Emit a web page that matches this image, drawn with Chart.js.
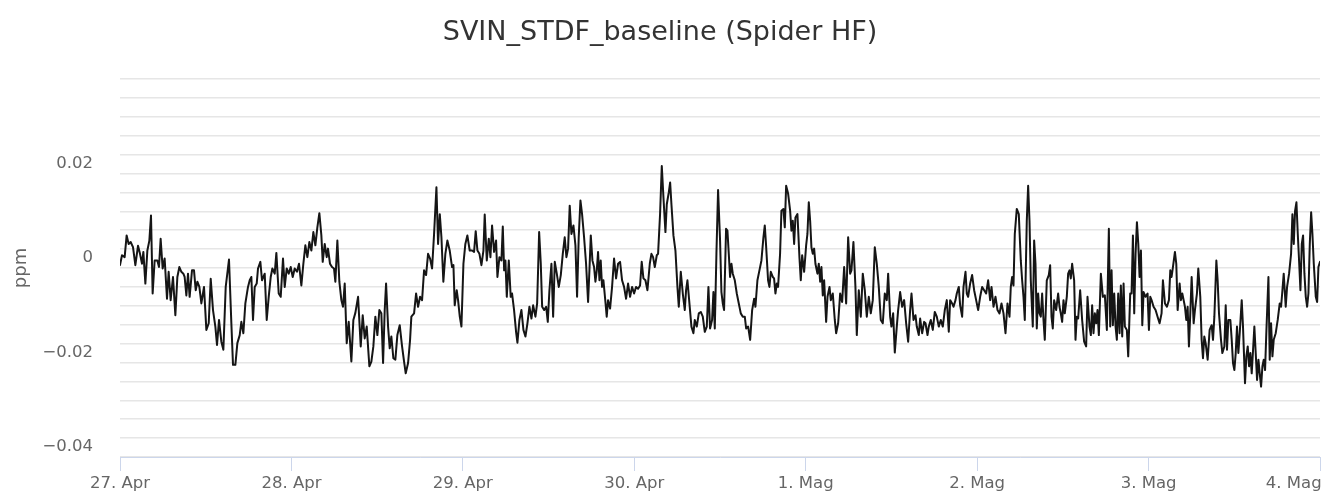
<!DOCTYPE html>
<html>
<head>
<meta charset="utf-8">
<title>SVIN_STDF_baseline (Spider HF)</title>
<script src="https://cdn.jsdelivr.net/npm/chart.js@4.4.1/dist/chart.umd.min.js"></script>
<style>
  html, body { margin: 0; padding: 0; background: #fff; }
  #wrap { width: 1322px; height: 494px; }
</style>
</head>
<body>
<div id="wrap"><canvas id="chart" width="1322" height="494"></canvas></div>
<script>
// ---- data (hours since 27 Apr 00:00, value in ppm) ----
const dayLabels = ['27. Apr', '28. Apr', '29. Apr', '30. Apr', '1. Mag', '2. Mag', '3. Mag', '4. Mag'];
const yLabelValues = [-0.04, -0.02, 0, 0.02];

const hours = [
  // 27 Apr
  0, 0.28, 0.65, 0.93, 1.21, 1.49, 1.82, 2.15, 2.52, 2.80,
  3.08, 3.27, 3.55, 3.83, 4.11, 4.34, 4.57, 4.85, 5.23, 5.46,
  5.69, 5.97, 6.25, 6.58, 6.81, 7.09, 7.42, 7.75, 8.03, 8.31,
  8.59, 8.87, 9.05, 9.29, 9.52, 9.75, 10.08, 10.36, 10.60, 10.83,
  11.11, 11.39, 11.76, 12.09, 12.42, 12.70, 13.02, 13.35, 13.58, 13.86,
  14.19, 14.47, 14.80, 15.26, 15.59, 15.82, 16.15, 16.43, 16.76, 16.99,
  17.27, 17.55, 17.92, 18.16, 18.39, 18.62, 18.86, 19.14, 19.32, 19.65,
  19.88, 20.26, 20.54, 20.82, 21.10, 21.33, 21.66, 21.89, 22.22, 22.50,
  22.82, 23.06, 23.34, 23.62, 23.90, 24.18, 24.46, 24.78, 25.06, 25.39,
  25.67, 25.95, 26.23, 26.51, 26.79, 27.07, 27.35, 27.63, 27.91, 28.19,
  28.38, 28.66, 28.94, 29.12, 29.40, 29.68, 29.96, 30.15, 30.43, 30.71,
  30.99, 31.22, 31.46, 31.74, 32.02, 32.39, 32.67, 32.95,
  // 28 Apr - 29 Apr
  33.33, 33.70, 33.98, 34.26, 34.54, 34.91, 35.19, 35.47, 35.75, 36.03,
  36.31, 36.59, 36.83, 37.06, 37.25, 37.53, 37.76, 37.99, 38.27, 38.55,
  38.83, 39.16, 39.49, 39.77, 40.00, 40.33, 40.61, 40.79, 41.17, 41.45,
  41.73, 42.01, 42.29, 42.57, 42.85, 43.13, 43.41, 43.69, 43.97, 44.30,
  44.53, 44.77, 45.00, 45.27, 45.55, 45.83, 46.16, 46.49, 46.68, 46.86,
  47.14, 47.33, 47.57, 47.80, 48.08, 48.35, 48.63, 48.96, 49.29, 49.57,
  49.80, 50.04, 50.32, 50.60, 50.88, 51.06, 51.35, 51.63, 51.86, 52.09,
  52.37, 52.65, 52.84, 53.12, 53.40, 53.59, 53.78, 53.96, 54.15, 54.43,
  54.70, 54.89, 55.17, 55.45, 55.64, 55.92, 56.20, 56.48, 56.76, 57.04,
  57.32, 57.60, 57.84, 58.16, 58.40, 58.68, 58.91, 59.10, 59.38, 59.66,
  59.89, 60.12, 60.40, 60.64, 60.87, 61.15, 61.43, 61.71, 61.99, 62.26,
  62.50, 62.73, 62.96, 63.20, 63.48, 63.76, 63.99, 64.22, 64.46, 64.69,
  64.97, 65.25, 65.53, 65.72, 65.91, 66.14, 66.37, 66.56, 66.75,
  // 29 Apr - 1 Mag
  66.93, 67.12, 67.30, 67.49, 67.68, 67.96, 68.14, 68.33, 68.61, 68.89,
  69.17, 69.45, 69.73, 70.01, 70.29, 70.57, 70.85, 71.13, 71.41, 71.69,
  71.97, 72.25, 72.53, 72.81, 73.04, 73.28, 73.56, 73.84, 74.17, 74.40,
  74.63, 74.87, 75.15, 75.33, 75.61, 75.85, 76.08, 76.36, 76.55, 76.83,
  77.02, 77.20, 77.48, 77.76, 78.04, 78.23, 78.51, 78.79, 79.07, 79.25,
  79.44, 79.72, 80.00, 80.28, 80.47, 80.75, 81.03, 81.31, 81.59, 81.87,
  82.15, 82.38, 82.61, 82.89, 83.08, 83.27, 83.50, 83.73, 84.01, 84.20,
  84.39, 84.57, 84.85, 85.04, 85.23, 85.41, 85.60, 85.79, 86.07, 86.35,
  86.63, 86.91, 87.19, 87.47, 87.66, 87.94, 88.22, 88.50, 88.78, 88.96,
  89.24, 89.52, 89.80, 90.08, 90.27, 90.45, 90.73, 90.92, 91.11, 91.39,
  91.57, 91.76, 91.95, 92.13, 92.41, 92.60, 92.88, 93.07, 93.26, 93.54,
  93.82, 94.00, 94.19, 94.38, 94.56, 94.84, 95.12, 95.31, 95.50, 95.78,
  96.06, 96.24, 96.43, 96.62, 96.80, 96.99, 97.18, 97.36, 97.64, 97.83,
  98.02, 98.20, 98.39, 98.58, 98.86, 99.05, 99.33, 99.51, 99.79, 100.07, 100.26,
  // 1 Mag - 2 Mag
  100.54, 100.82, 101.10, 101.38, 101.66, 101.94, 102.22, 102.40, 102.68, 102.96,
  103.15, 103.43, 103.71, 103.99, 104.27, 104.55, 104.83, 105.11, 105.39, 105.67,
  105.95, 106.23, 106.51, 106.79, 107.07, 107.35, 107.54, 107.82, 108.00, 108.24,
  108.47, 108.75, 108.94, 109.22, 109.50, 109.78, 110.06, 110.34, 110.62, 110.81,
  111.09, 111.37, 111.55, 111.83, 112.02, 112.30, 112.58, 112.77, 113.05, 113.23,
  113.51, 113.79, 114.07, 114.35, 114.63, 114.91, 115.19, 115.47, 115.75, 116.03,
  116.22, 116.50, 116.69, 116.97, 117.15, 117.43, 117.62, 117.90, 118.09, 118.37,
  118.55, 118.74, 119.02, 119.30, 119.58, 119.86, 120.14, 120.42, 120.70, 120.98,
  121.26, 121.54, 121.82, 122.01, 122.29, 122.57, 122.85, 123.13, 123.41, 123.69,
  123.97, 124.25, 124.53, 124.71, 124.90, 125.09, 125.27, 125.55, 125.83, 126.11,
  126.30, 126.49, 126.67, 126.95, 127.14, 127.33, 127.51, 127.79, 127.98, 128.17,
  128.35, 128.54, 128.73, 128.91, 129.10, 129.29, 129.47, 129.75, 130.03, 130.22,
  130.41, 130.59, 130.78, 131.06, 131.34, 131.53, 131.71, 131.90, 132.09, 132.27,
  132.55, 132.74, 132.93, 133.11, 133.30, 133.58, 133.77, 133.95,
  // 2 Mag - 4 Mag
  134.14, 134.42, 134.70, 134.98, 135.26, 135.45, 135.73, 135.92, 136.10, 136.29,
  136.48, 136.67, 136.85, 137.04, 137.32, 137.60, 137.88, 138.16, 138.44, 138.63,
  138.82, 139.00, 139.19, 139.38, 139.56, 139.75, 139.94, 140.12, 140.31, 140.50,
  140.68, 140.96, 141.15, 141.43, 141.62, 141.81, 141.99, 142.18, 142.37, 142.56,
  142.74, 142.93, 143.12, 143.30, 143.58, 143.86, 144.05, 144.24, 144.42, 144.70,
  144.98, 145.26, 145.54, 145.82, 146.01, 146.29, 146.57, 146.85, 147.04, 147.22,
  147.41, 147.69, 147.88, 148.07, 148.35, 148.53, 148.72, 148.91, 149.09, 149.28,
  149.47, 149.65, 149.84, 150.03, 150.31, 150.49, 150.77, 150.96, 151.24, 151.43,
  151.62, 151.80, 151.99, 152.27, 152.55, 152.83, 153.02, 153.21, 153.49, 153.67,
  153.86, 154.14, 154.33, 154.61, 154.80, 154.98, 155.17, 155.45, 155.64, 155.82,
  156.01, 156.20, 156.38, 156.57, 156.76, 157.04, 157.22, 157.50, 157.69, 157.88,
  158.07, 158.25, 158.44, 158.63, 158.81, 159.00, 159.19, 159.38, 159.56, 159.75,
  159.94, 160.12, 160.31, 160.50, 160.78, 160.96, 161.15, 161.34, 161.52, 161.80,
  162.08, 162.36, 162.55, 162.74, 162.92, 163.20, 163.39, 163.67, 163.95, 164.14,
  164.33, 164.51, 164.70, 164.89, 165.07, 165.26, 165.45, 165.63, 165.82, 166.01,
  166.20, 166.38, 166.57, 166.76, 166.94, 167.13, 167.41, 167.60, 167.78, 168.00
];

const ppm = [
  // 27 Apr
  0.0006, 0.0027, 0.0023, 0.0069, 0.0051, 0.0055, 0.0044, 0.0006, 0.0047, 0.0030,
  0.0009, 0.0034, -0.0033, 0.0037, 0.0058, 0.0111, -0.0054, 0.0016, 0.0016, 0.0002,
  0.0062, -0.0001, 0.0020, -0.0065, -0.0008, -0.0068, -0.0019, -0.0100, -0.0019, 0.0002,
  -0.0008, -0.0012, -0.0019, -0.0058, -0.0012, -0.0061, -0.0005, -0.0005, -0.0047, -0.0029,
  -0.0040, -0.0075, -0.0040, -0.0131, -0.0117, -0.0023, -0.0089, -0.0124, -0.0163, -0.0110,
  -0.0156, -0.0173, -0.0040, 0.0018, -0.0117, -0.0205, -0.0205, -0.0159, -0.0142, -0.0114,
  -0.0138, -0.0075, -0.0040, -0.0026, -0.0019, -0.0110, -0.0040, -0.0033, -0.0001, 0.0013,
  -0.0026, -0.0012, -0.0110, -0.0061, -0.0019, -0.0001, -0.0012, 0.0032, -0.0054, -0.0061,
  0.0020, -0.0040, -0.0001, -0.0012, 0.0002, -0.0019, -0.0001, -0.0008, 0.0009, -0.0037,
  0.0009, 0.0048, 0.0023, 0.0055, 0.0037, 0.0076, 0.0048, 0.0086, 0.0116, 0.0069,
  0.0013, 0.0051, 0.0023, 0.0041, 0.0009, 0.0002, -0.0001, -0.0029, 0.0058, -0.0029,
  -0.0068, -0.0082, -0.0033, -0.0159, -0.0114, -0.0198, -0.0110, -0.0095,
  // 28 Apr - 29 Apr
  -0.0061, -0.0166, -0.0100, -0.0149, -0.0124, -0.0208, -0.0198, -0.0166, -0.0103, -0.0142,
  -0.0089, -0.0096, -0.0201, -0.0089, -0.0033, -0.0124, -0.0170, -0.0145, -0.0191, -0.0194,
  -0.0142, -0.0121, -0.0166, -0.0198, -0.0223, -0.0201, -0.0152, -0.0103, -0.0096, -0.0054,
  -0.0082, -0.0061, -0.0068, -0.0005, -0.0015, 0.0030, 0.0020, -0.0001, 0.0072, 0.0171,
  0.0051, 0.0114, 0.0065, -0.0029, 0.0030, 0.0058, 0.0037, 0.0002, 0.0006, -0.0079,
  -0.0047, -0.0068, -0.0103, -0.0124, 0.0009, 0.0051, 0.0069, 0.0037, 0.0037, 0.0034,
  0.0078, 0.0037, 0.0030, 0.0006, 0.0037, 0.0113, 0.0016, 0.0062, 0.0023, 0.0090,
  0.0034, 0.0058, -0.0019, 0.0023, 0.0016, 0.0088, -0.0005, 0.0016, -0.0061, 0.0016,
  -0.0061, -0.0054, -0.0089, -0.0135, -0.0158, -0.0110, -0.0089, -0.0131, -0.0145, -0.0117,
  -0.0082, -0.0107, -0.0079, -0.0103, -0.0075, 0.0076, 0.0009, -0.0082, -0.0089, -0.0082,
  -0.0114, -0.0047, 0.0009, -0.0103, 0.0013, -0.0012, -0.0040, -0.0015, 0.0030, 0.0065,
  0.0023, 0.0041, 0.0132, 0.0072, 0.0090, 0.0048, -0.0061, 0.0065, 0.0143, 0.0114,
  0.0065, 0.0009, -0.0072, -0.0005, 0.0069, 0.0016, 0.0002, -0.0029, -0.0005,
  // 29 Apr - 1 Mag
  0.0034, -0.0026, 0.0016, -0.0040, -0.0026, -0.0072, -0.0103, -0.0068, -0.0086, -0.0040,
  0.0020, -0.0022, 0.0009, 0.0013, -0.0026, -0.0040, -0.0065, -0.0033, -0.0061, -0.0040,
  -0.0054, -0.0040, -0.0044, -0.0037, 0.0013, -0.0022, -0.0026, -0.0047, 0.0009, 0.0030,
  0.0023, 0.0002, 0.0027, 0.0030, 0.0114, 0.0216, 0.0150, 0.0076, 0.0135, 0.0160,
  0.0181, 0.0135, 0.0069, 0.0037, -0.0040, -0.0082, -0.0008, -0.0054, -0.0089, -0.0047,
  -0.0026, -0.0075, -0.0124, -0.0138, -0.0110, -0.0124, -0.0096, -0.0093, -0.0103, -0.0135,
  -0.0124, -0.0040, -0.0128, -0.0110, -0.0051, -0.0128, 0.0030, 0.0165, 0.0058, -0.0051,
  -0.0075, -0.0089, 0.0083, 0.0079, 0.0030, -0.0019, 0.0009, -0.0012, -0.0026, -0.0054,
  -0.0075, -0.0096, -0.0103, -0.0103, -0.0128, -0.0124, -0.0152, -0.0089, -0.0065, -0.0082,
  -0.0026, -0.0005, 0.0016, 0.0065, 0.0090, 0.0048, -0.0026, -0.0040, -0.0008, -0.0019,
  -0.0022, -0.0054, -0.0033, -0.0040, 0.0030, 0.0121, 0.0125, 0.0086, 0.0174, 0.0157,
  0.0121, 0.0079, 0.0100, 0.0051, 0.0107, 0.0114, 0.0023, -0.0026, 0.0027, -0.0008,
  0.0048, 0.0072, 0.0139, 0.0100, 0.0044, 0.0030, 0.0041, 0.0009, -0.0012, 0.0009,
  -0.0029, 0.0002, -0.0058, -0.0026, -0.0114, -0.0061, -0.0040, -0.0068, -0.0054, -0.0110, -0.0138,
  // 1 Mag - 2 Mag
  -0.0117, -0.0054, -0.0072, 0.0002, -0.0075, 0.0065, -0.0012, -0.0005, 0.0055, -0.0040,
  -0.0142, -0.0047, -0.0103, -0.0012, -0.0047, -0.0103, -0.0061, -0.0096, -0.0068, 0.0044,
  0.0009, -0.0040, -0.0110, -0.0117, -0.0054, -0.0068, -0.0012, -0.0103, -0.0124, -0.0096,
  -0.0179, -0.0124, -0.0089, -0.0051, -0.0082, -0.0068, -0.0117, -0.0156, -0.0089, -0.0054,
  -0.0110, -0.0100, -0.0124, -0.0142, -0.0107, -0.0138, -0.0114, -0.0117, -0.0142, -0.0124,
  -0.0110, -0.0131, -0.0093, -0.0103, -0.0124, -0.0110, -0.0124, -0.0089, -0.0068, -0.0135,
  -0.0068, -0.0075, -0.0082, -0.0068, -0.0054, -0.0040, -0.0079, -0.0103, -0.0040, -0.0008,
  -0.0054, -0.0061, -0.0033, -0.0015, -0.0047, -0.0068, -0.0089, -0.0061, -0.0040, -0.0047,
  -0.0054, -0.0026, -0.0068, -0.0040, -0.0082, -0.0061, -0.0089, -0.0096, -0.0075, -0.0096,
  -0.0138, -0.0075, -0.0103, -0.0040, -0.0019, -0.0037, 0.0072, 0.0125, 0.0114, 0.0016,
  -0.0026, -0.0061, -0.0110, 0.0100, 0.0174, 0.0100, -0.0026, -0.0124, 0.0058, 0.0009,
  -0.0128, -0.0054, -0.0096, -0.0103, -0.0054, -0.0110, -0.0152, -0.0026, -0.0015, 0.0006,
  -0.0103, -0.0128, -0.0068, -0.0089, -0.0054, -0.0082, -0.0096, -0.0114, -0.0068, -0.0096,
  -0.0061, -0.0012, -0.0005, -0.0022, 0.0009, -0.0026, -0.0152, -0.0103,
  // 2 Mag - 4 Mag
  -0.0107, -0.0047, -0.0110, -0.0156, -0.0166, -0.0061, -0.0124, -0.0142, -0.0079, -0.0138,
  -0.0096, -0.0117, -0.0089, -0.0142, -0.0012, -0.0061, -0.0058, -0.0131, 0.0083, -0.0124,
  -0.0005, -0.0121, -0.0054, -0.0124, -0.0152, -0.0054, -0.0138, -0.0037, -0.0145, -0.0033,
  -0.0124, -0.0131, -0.0187, -0.0054, -0.0054, 0.0069, -0.0096, 0.0030, 0.0097, 0.0051,
  -0.0019, 0.0037, -0.0121, -0.0051, -0.0061, -0.0054, -0.0131, -0.0061, -0.0068, -0.0082,
  -0.0089, -0.0103, -0.0117, -0.0096, -0.0026, -0.0075, -0.0082, -0.0068, -0.0005, -0.0019,
  0.0002, 0.0034, 0.0009, -0.0089, -0.0033, -0.0068, -0.0054, -0.0068, -0.0082, -0.0110,
  -0.0082, -0.0166, -0.0096, -0.0019, -0.0117, -0.0089, -0.0054, -0.0001, -0.0061, -0.0152,
  -0.0191, -0.0145, -0.0159, -0.0194, -0.0131, -0.0121, -0.0152, -0.0103, 0.0016, -0.0026,
  -0.0096, -0.0152, -0.0180, -0.0166, -0.0079, -0.0173, -0.0110, -0.0110, -0.0152, -0.0201,
  -0.0216, -0.0180, -0.0124, -0.0180, -0.0138, -0.0068, -0.0124, -0.0244, -0.0187, -0.0166,
  -0.0208, -0.0180, -0.0223, -0.0173, -0.0124, -0.0180, -0.0237, -0.0194, -0.0223, -0.0251,
  -0.0208, -0.0194, -0.0216, -0.0131, -0.0019, -0.0194, -0.0117, -0.0187, -0.0152, -0.0138,
  -0.0110, -0.0075, -0.0082, -0.0047, -0.0012, -0.0082, -0.0040, -0.0012, 0.0030, 0.0114,
  0.0051, 0.0121, 0.0139, 0.0072, 0.0016, -0.0047, 0.0051, 0.0069, -0.0012, -0.0061,
  -0.0082, -0.0054, 0.0051, 0.0118, 0.0072, 0.0009, -0.0061, -0.0072, 0.0002, 0.0013
];

if (hours.length !== ppm.length) console.warn('hours/ppm length mismatch', hours.length, ppm.length);

// ---- style ----
const FONT = "'DejaVu Sans', sans-serif";
const LABEL_COLOR = '#666';

function yTickLabel(v){
  const hit = yLabelValues.find(t => Math.abs(t - v) < 1e-6);
  if (hit === undefined) return '';          // keep the grid line, no text
  if (hit === 0) return '0';
  return (hit < 0 ? '\u2212' : '') + Math.abs(hit).toFixed(2);
}

function xTickLabel(v){
  const idx = Math.round(v / 24);
  const txt = dayLabels[idx] || '';
  // last label sits inside the plot, right-aligned like the original
  return idx === dayLabels.length - 1 ? txt + '          ' : txt;
}

const ctx = document.getElementById('chart').getContext('2d');
new Chart(ctx, {
  type: 'line',
  data: {
    datasets: [{
      label: 'SVIN_STDF_baseline',
      data: hours.map((h, i) => ({ x: h, y: ppm[i] })),
      borderColor: '#151515',
      borderWidth: 2,
      borderJoinStyle: 'round',
      borderCapStyle: 'round',
      pointRadius: 0,
      tension: 0,
      fill: false
    }]
  },
  options: {
    responsive: false,
    animation: false,
    layout: { padding: { left: 0, right: 2, top: 0, bottom: 0 } },
    plugins: {
      legend: { display: false },
      tooltip: { enabled: false },
      title: {
        display: true,
        text: 'SVIN_STDF_baseline (Spider HF)',
        color: '#333',
        font: { family: FONT, size: 27, weight: 'normal' },
        padding: { top: 17, bottom: 29.6 }
      }
    },
    scales: {
      x: {
        type: 'linear',
        min: 0,
        max: 168,
        afterFit(s){ s.height = 37; s.paddingLeft = 0; s.paddingRight = 0; },
        grid: { drawOnChartArea: false, drawTicks: true, tickLength: 14, color: '#ccd6eb' },
        border: { display: true, color: '#ccd6eb', width: 1 },
        ticks: {
          stepSize: 24,
          autoSkip: false,
          maxRotation: 0,
          padding: 3,
          color: LABEL_COLOR,
          font: { family: FONT, size: 16.5 },
          callback: xTickLabel
        }
      },
      y: {
        min: -0.04,
        max: 0.04,
        afterFit(s){ s.width = 120; s.paddingTop = 0; s.paddingBottom = 0; },
        grid: { color: '#e6e6e6', lineWidth: 1.5, drawTicks: false },
        border: { display: false },
        ticks: {
          stepSize: 0.004,
          autoSkip: false,
          padding: 27,
          labelOffset: -10,
          color: LABEL_COLOR,
          font: { family: FONT, size: 16.5 },
          callback: yTickLabel
        },
        title: {
          display: true,
          text: 'ppm',
          color: LABEL_COLOR,
          font: { family: FONT, size: 18 },
          padding: { top: 11, bottom: 0 }
        }
      }
    }
  }
});
</script>
</body>
</html>
